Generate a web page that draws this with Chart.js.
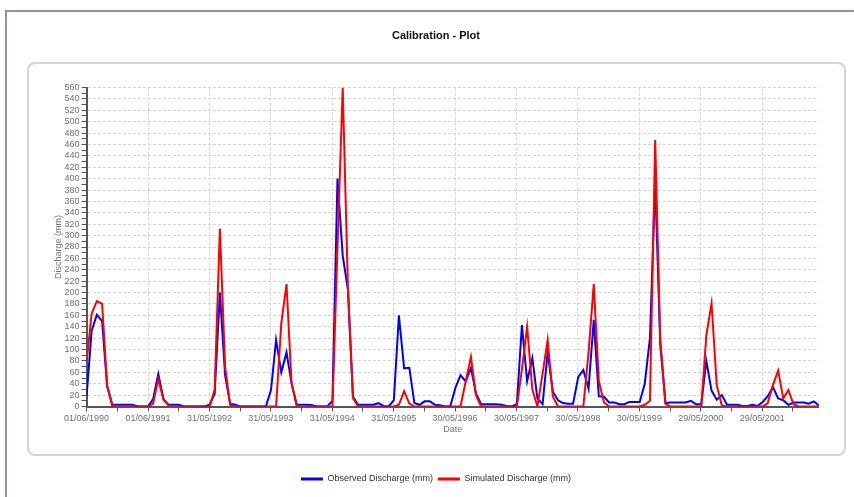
<!DOCTYPE html>
<html>
<head>
<meta charset="utf-8">
<title>Calibration - Plot</title>
<script src="https://cdn.jsdelivr.net/npm/chart.js@4.4.1/dist/chart.umd.min.js"></script>
<style>
  html, body { margin: 0; padding: 0; background: #fff; }
  body { width: 854px; height: 497px; position: relative; overflow: hidden; }
  .frame {
    position: absolute; left: 5px; top: 10px; width: 870px; height: 500px;
    border-left: 2px solid #8b95a3; border-top: 2px solid #8b95a3;
  }
  .panel {
    position: absolute; left: 27px; top: 62px; width: 819px; height: 394px;
    box-sizing: border-box; border: 2px solid #d4d4d4; border-radius: 8px;
  }
  #calibrationChart { position: absolute; left: 0; top: 0; }
</style>
</head>
<body>
<div class="frame"></div>
<div class="panel"></div>
<canvas id="calibrationChart" width="854" height="497"></canvas>

<script>
// Monthly series, first value on 01/06/1990, last on 01/05/2002
const startYear = 1990;
const startMonth = 5; // June (0-based)

const observed = [
  18, 133, 161, 150, 36, 3, 3, 3, 3, 3, 0, 0,
  0, 13, 57, 13, 3, 3, 3, 0, 0, 0, 0, 0,
  3, 22, 200, 55, 5, 3, 0, 0, 0, 0, 0, 0,
  29, 117, 60, 95, 41, 3, 3, 3, 2, 0, 0, 0,
  10, 400, 265, 205, 17, 3, 3, 3, 3, 6, 1, 0,
  11, 160, 67, 68, 6, 3, 9, 9, 3, 2, 0, 0,
  33, 55, 44, 68, 23, 4, 4, 4, 4, 3, 1, 0,
  4, 143, 44, 85, 14, 4, 95, 26, 11, 6, 5, 5,
  52, 64, 31, 152, 18, 17, 7, 7, 4, 4, 8, 8,
  8, 40, 120, 395, 110, 6, 7, 7, 7, 7, 10, 4,
  4, 80, 28, 12, 20, 3, 3, 3, 1, 1, 3, 1,
  8, 18, 34, 14, 11, 3, 7, 7, 7, 5, 9, 2
];

const simulated = [
  78, 163, 185, 180, 37, 0, 0, 0, 0, 0, 0, 0,
  0, 5, 48, 12, 2, 0, 0, 0, 0, 0, 0, 0,
  0, 30, 312, 70, 3, 0, 0, 0, 0, 0, 0, 0,
  0, 0, 146, 215, 41, 0, 0, 0, 0, 0, 0, 0,
  0, 280, 560, 210, 15, 0, 0, 0, 0, 0, 0, 0,
  0, 3, 27, 5, 0, 0, 0, 0, 0, 0, 0, 0,
  0, 0, 44, 87, 20, 0, 0, 0, 0, 0, 0, 0,
  0, 65, 140, 30, 0, 58, 117, 17, 0, 0, 0, 0,
  0, 0, 95, 215, 45, 7, 0, 0, 0, 0, 0, 0,
  0, 3, 10, 468, 120, 5, 0, 0, 0, 0, 0, 0,
  0, 125, 181, 37, 2, 0, 0, 0, 0, 0, 0, 0,
  0, 6, 38, 63, 14, 29, 4, 0, 0, 0, 0, 0
];

// one label per 365 days from the start date
const tickLabels = [
  '01/06/1990', '01/06/1991', '31/05/1992', '31/05/1993', '31/05/1994', '31/05/1995',
  '30/05/1996', '30/05/1997', '30/05/1998', '30/05/1999', '29/05/2000', '29/05/2001'
];

const DAY = 86400000;
const HALF_YEAR = 182.5;
const t0 = Date.UTC(startYear, startMonth, 1);
const dayOffsets = observed.map((_, i) => (Date.UTC(startYear, startMonth + i, 1) - t0) / DAY);

const toPoints = values => values.map((v, i) => ({ x: dayOffsets[i], y: v }));

const tickFont = { family: '"Liberation Sans", Arial, sans-serif', size: 9 };
const gridColor = '#d5d5d5';
const axisColor = '#555';

new Chart(document.getElementById('calibrationChart'), {
  type: 'line',
  data: {
    datasets: [
      {
        label: 'Observed Discharge (mm)',
        data: toPoints(observed),
        borderColor: '#0000ff',
        backgroundColor: '#0000ff',
        borderWidth: 2,
        pointRadius: 0,
        tension: 0,
        fill: false,
        order: 2
      },
      {
        label: 'Simulated Discharge (mm)',
        data: toPoints(simulated),
        borderColor: '#ff0000',
        backgroundColor: '#ff0000',
        borderWidth: 2,
        pointRadius: 0,
        tension: 0,
        fill: false,
        order: 1
      }
    ]
  },
  options: {
    responsive: false,
    animation: false,
    layout: { padding: { left: 53, right: 35.1, top: 0, bottom: 3.5 } },
    scales: {
      x: {
        type: 'linear',
        min: 0,
        max: dayOffsets[dayOffsets.length - 1],
        afterBuildTicks: scale => {
          const ticks = [];
          for (let k = 0; k * HALF_YEAR <= scale.max; k++) ticks.push({ value: k * HALF_YEAR });
          scale.ticks = ticks;
        },
        afterFit: scale => { scale.height = 63; },
        ticks: {
          autoSkip: false,
          maxRotation: 0,
          padding: 2,
          color: '#707070',
          font: tickFont,
          callback: (v, i) => (i % 2 === 0 ? (tickLabels[i / 2] || '') : '')
        },
        grid: {
          color: ctx => (ctx.index % 2 === 0 ? gridColor : 'rgba(0,0,0,0)'),
          tickColor: axisColor,
          tickLength: 5,
          tickBorderDash: []
        },
        border: { display: true, color: axisColor, width: 2, dash: [3, 2] },
        title: {
          display: true,
          text: 'Date',
          color: '#777',
          font: tickFont,
          padding: { top: 0, bottom: 34.1 }
        }
      },
      y: {
        min: 0,
        max: 560,
        afterFit: scale => { scale.width = 33.6; },
        ticks: {
          stepSize: 10,
          autoSkip: false,
          padding: 2,
          color: '#707070',
          font: tickFont,
          callback: v => (v % 20 === 0 ? v : '')
        },
        grid: {
          color: ctx => (ctx.tick && ctx.tick.value % 20 === 0 ? gridColor : 'rgba(0,0,0,0)'),
          tickColor: axisColor,
          tickLength: 5,
          tickBorderDash: []
        },
        border: { display: true, color: axisColor, width: 2, dash: [3, 2] },
        title: {
          display: true,
          text: 'Discharge (mm)',
          color: '#777',
          font: tickFont,
          padding: 0
        }
      }
    },
    plugins: {
      title: {
        display: true,
        text: 'Calibration - Plot',
        color: '#111',
        font: { family: '"Liberation Sans", Arial, sans-serif', size: 11, weight: 'bold' },
        padding: { top: 29, bottom: 45.3 }
      },
      legend: {
        position: 'bottom',
        labels: {
          boxWidth: 22,
          boxHeight: 3,
          padding: 5,
          color: '#333',
          font: tickFont,
          sort: (a, b) => a.datasetIndex - b.datasetIndex,
          generateLabels: chart => Chart.defaults.plugins.legend.labels.generateLabels(chart)
            .map(item => Object.assign(item, { lineWidth: 0 }))
        }
      },
      tooltip: { enabled: false }
    }
  }
});
</script>
</body>
</html>
